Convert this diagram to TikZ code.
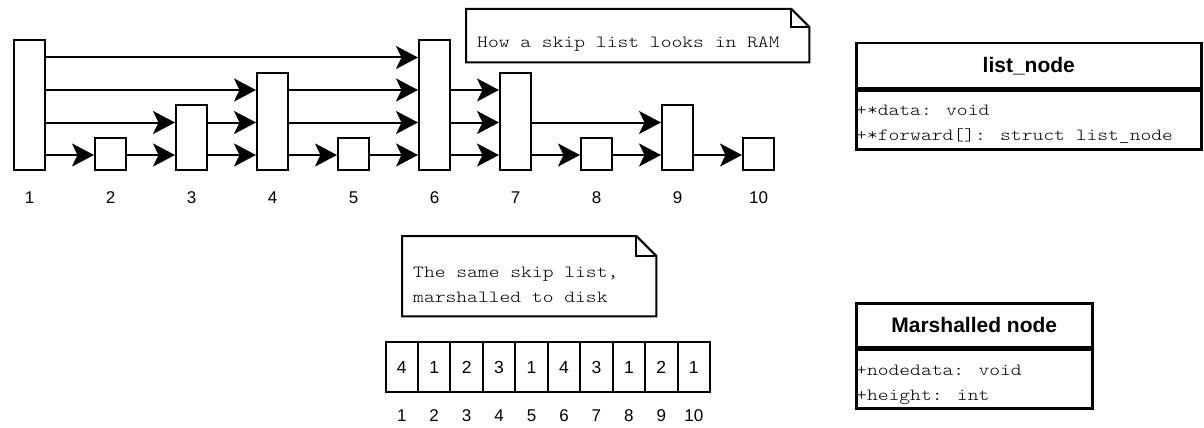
\documentclass[tikz,border=0pt]{standalone}
\usepackage{fontspec}
\setmainfont{Liberation Sans}
\newfontfamily\monofont[FakeStretch=1.21]{Latin Modern Mono Light}
\usetikzlibrary{arrows.meta}
\begin{document}
\begin{tikzpicture}[x=1pt,y=-1pt,
  lnode/.style={draw, line width=2pt, fill=white, inner sep=0pt,
    minimum width=31pt, anchor=south west},
  link/.style={line width=2pt, -{Stealth[length=22pt,width=23pt,inset=5.5pt]}},
  idx/.style={font=\fontsize{17}{17}\selectfont, inner sep=0pt},
  cell/.style={draw, line width=2pt, fill=white, inner sep=0pt,
    minimum width=32.45pt, minimum height=50pt, anchor=north west,
    font=\fontsize{17.5}{17.5}\selectfont},
  notefr/.style={draw, line width=2pt, fill=white, line join=miter},
  notebox/.style={inner sep=0pt, anchor=north west},
  mono/.style={font=\monofont\fontsize{17}{17}\selectfont, inner sep=0pt, anchor=base west},
  umlhead/.style={draw, line width=2.5pt, fill=white, inner sep=0pt, anchor=north west,
    font=\bfseries\fontsize{21}{21}\selectfont},
  umlbody/.style={draw, line width=2.5pt, inner sep=0pt, anchor=north west},
]
\useasboundingbox (0,0) rectangle (1204,428);

% rows used by the skip list links and index labels
\coordinate (lv1) at (0,155);
\coordinate (lv2) at (0,122.5);
\coordinate (lv3) at (0,90);
\coordinate (lv4) at (0,57.5);
\coordinate (labrow) at (0,197.5);
\coordinate (arow) at (0,416);

% skip list nodes in memory, one tower per element
\foreach \i/\h in {1/4,2/1,3/2,4/3,5/1,6/4,7/3,8/1,9/2,10/1} {
  \node[lnode, minimum height=32.4*\h] (n\i) at ({13+81*(\i-1)},171) {};
  \node[idx] (l\i) at (n\i |- labrow) {\i};
}

% forward pointers, level by level
\foreach \a/\b/\l in {1/6/4,
    1/4/3, 4/6/3, 6/7/3,
    1/3/2, 3/4/2, 4/6/2, 6/7/2, 7/9/2,
    1/2/1, 2/3/1, 3/4/1, 4/5/1, 5/6/1, 6/7/1, 7/8/1, 8/9/1, 9/10/1} {
  \draw[link] (n\a.east |- lv\l) -- (n\b.west |- lv\l);
}

% note: in-memory layout
\node[notebox, minimum width=343pt, minimum height=53pt] (note1) at (466,9) {};
\draw[notefr] (note1.north west) -- ([xshift=-18pt]note1.north east)
  -- ([yshift=-18pt]note1.north east) -- (note1.south east)
  -- (note1.south west) -- cycle;
\draw[notefr, fill=none] ([xshift=-18pt]note1.north east) -- ++(0,18)
  -- ([yshift=-18pt]note1.north east);
\node[mono] (note1t) at (477,48) {How a skip list looks in RAM};

% note: on-disk layout
\node[notebox, minimum width=254pt, minimum height=80pt] (note2) at (402,236) {};
\draw[notefr] (note2.north west) -- ([xshift=-20pt]note2.north east)
  -- ([yshift=-20pt]note2.north east) -- (note2.south east)
  -- (note2.south west) -- cycle;
\draw[notefr, fill=none] ([xshift=-20pt]note2.north east) -- ++(0,20)
  -- ([yshift=-20pt]note2.north east);
\node[mono] (note2a) at (413,277) {The same skip list,};
\node[mono] (note2b) at (413,302) {marshalled to disk};

% marshalled array of node heights
\foreach \i/\v in {1/4,2/1,3/2,4/3,5/1,6/4,7/3,8/1,9/2,10/1} {
  \node[cell] (c\i) at ({384.5+32.45*(\i-1)},341) {\v};
  \node[idx] (a\i) at (c\i |- arow) {\i};
}

% class: list_node
\node[umlhead, minimum width=345pt, minimum height=45pt] (ln) at (855,42) {list\_node};
\node[umlbody, minimum width=345pt, minimum height=58pt] (lnb) at (ln.south west) {};
\node[mono] (lna) at (856,115) {+*data: void};
\node[mono] (lnf) at (856,140) {+*forward[]: struct list\_node};
\draw[line width=2.5pt] (lnb.south west) -- (lnb.south east);

% class: Marshalled node
\node[umlhead, minimum width=236pt, minimum height=44pt] (mn) at (855,302) {Marshalled node};
\node[umlbody, minimum width=236pt, minimum height=58pt] (mnb) at (mn.south west) {};
\node[mono] (mnd) at (856,375) {+nodedata: void};
\node[mono] (mnh) at (856,400) {+height: int};
\draw[line width=2.5pt] (mnb.south west) -- (mnb.south east);
\end{tikzpicture}
\end{document}
